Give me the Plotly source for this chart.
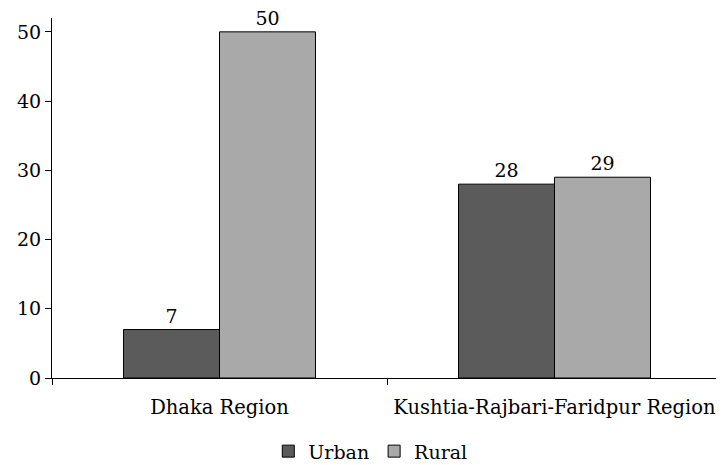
import plotly.graph_objects as go

categories = ["Dhaka Region", "Kushtia-Rajbari-Faridpur Region"]
urban = [7, 28]
rural = [50, 29]
y_ticks = [0, 10, 20, 30, 40, 50]

FONT = "DejaVu Serif"
FS = 19

fig = go.Figure()
fig.add_trace(go.Bar(
    name="Urban", x=categories, y=urban, text=urban, textposition="outside",
    marker=dict(color="#5b5b5b", line=dict(color="#000000", width=1)),
    cliponaxis=False,
))
fig.add_trace(go.Bar(
    name="Rural", x=categories, y=rural, text=rural, textposition="outside",
    marker=dict(color="#a9a9a9", line=dict(color="#000000", width=1)),
    cliponaxis=False,
))

# page body has an 8px margin, so the figure is sized to the visible area
fig.update_layout(
    width=716, height=457,
    margin=dict(l=44, r=2, t=10, b=87, autoexpand=False),
    paper_bgcolor="white", plot_bgcolor="white",
    font=dict(family=FONT, size=FS, color="black"),
    barmode="group", bargap=0.427, bargroupgap=0,
    showlegend=True,
    legend=dict(orientation="h", x=0.506, xanchor="center", xref="container",
                y=0.03, yanchor="middle", yref="container",
                font=dict(family=FONT, size=FS), itemwidth=30, traceorder="normal",
                tracegroupgap=0),
    uniformtext=dict(minsize=FS, mode="show"),
)
fig.update_traces(textfont=dict(family=FONT, size=FS, color="black"))
fig.update_xaxes(
    showline=True, linecolor="black", linewidth=1,
    ticks="outside", ticklen=6, tickcolor="black", tickson="boundaries",
    showgrid=False, tickfont=dict(family=FONT, size=19.5), automargin=False,
    ticklabelstandoff=12, tickangle=0,
)
fig.update_yaxes(
    range=[0, 52], showline=True, linecolor="black", linewidth=1,
    ticks="outside", ticklen=6, tickcolor="black",
    tickvals=y_ticks, showgrid=False, zeroline=False,
    tickfont=dict(family=FONT, size=FS), automargin=False,
)

fig.write_html("out.html")
